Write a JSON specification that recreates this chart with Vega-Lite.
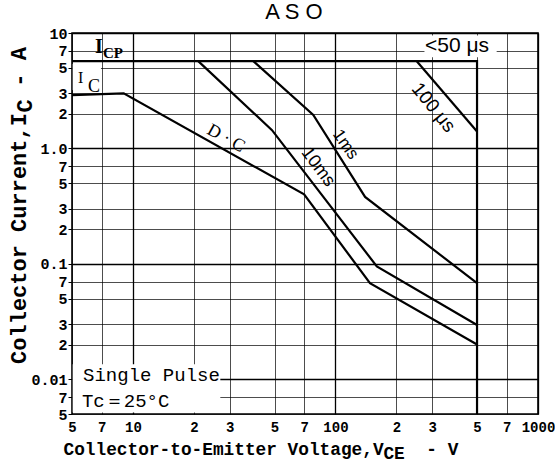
{
  "$schema": "https://vega.github.io/schema/vega-lite/v6.json",
  "width": 466,
  "height": 381,
  "autosize": {"type": "none"},
  "padding": {"left": 72, "top": 33, "right": 17, "bottom": 61},
  "background": "white",
  "title": {"text": "A S O", "font": "Liberation Sans", "fontSize": 22, "fontWeight": "normal", "color": "black", "dx": -11, "dy": 18, "offset": 3, "baseline": "alphabetic"},
  "config": {
    "view": {"stroke": "black", "strokeWidth": 1.6},
    "axis": {"gridColor": "black", "labelColor": "black", "titleColor": "black", "domain": false}
  },
  "layer": [
    {
      "data": {"values": [
        {"v": 5.04, "v2": 27, "i": 0.00515, "i2": 0.0135},
        {"v": 275, "v2": 625, "i": 6.15, "i2": 9.5},
        {"v": 5.04, "v2": 6.95, "i": 3.2, "i2": 5.4}
      ]},
      "mark": {"type": "rect", "fill": "white", "stroke": null},
      "encoding": {
        "x": {"field": "v", "type": "quantitative", "scale": {"type": "log", "domain": [5, 1000], "nice": false},
          "axis": {
            "values": [5, 7, 10, 20, 30, 50, 70, 100, 200, 300, 500, 700, 1000],
            "labelExpr": "abs(log(datum.value)/LN10 - round(log(datum.value)/LN10)) < 0.01 ? format(datum.value, 'd') : '' + round(datum.value / pow(10, floor(log(datum.value)/LN10 + 1e-6)))",
            "grid": true,
            "gridWidth": {"condition": {"test": "abs(log(datum.value)/LN10 - round(log(datum.value)/LN10)) < 0.01", "value": 1.3}, "value": 0.7},
            "ticks": false,
            "labelPadding": 6,
            "labelFont": "Liberation Mono", "labelFontWeight": "bold", "labelFontSize": 14,
            "labelFlush": false, "labelOverlap": false,
            "title": "Collector-to-Emitter Voltage,V\u00a0\u00a0\u00a0\u00a0-\u00a0V",
            "titleFont": "Liberation Mono", "titleFontSize": 17.8, "titleFontWeight": "bold",
            "titleAnchor": "start", "titleAlign": "left", "titleX": -9, "titleY": 40, "titleBaseline": "alphabetic"
          }},
        "x2": {"field": "v2"},
        "y": {"field": "i", "type": "quantitative", "scale": {"type": "log", "domain": [0.005, 10], "nice": false},
          "axis": {
            "values": [0.005, 0.007, 0.01, 0.02, 0.03, 0.05, 0.07, 0.1, 0.2, 0.3, 0.5, 0.7, 1, 2, 3, 5, 7, 10],
            "labelExpr": "abs(log(datum.value)/LN10 - round(log(datum.value)/LN10)) < 0.01 ? (datum.value > 5 ? '10' : datum.value > 0.5 ? '1.0' : datum.value > 0.05 ? '0.1' : '0.01') : '' + round(datum.value / pow(10, floor(log(datum.value)/LN10 + 1e-6)))",
            "grid": true,
            "gridWidth": {"condition": {"test": "abs(log(datum.value)/LN10 - round(log(datum.value)/LN10)) < 0.01", "value": 1.3}, "value": 0.7},
            "ticks": true, "tickSize": 4, "tickColor": "black", "tickWidth": 1,
            "labelPadding": 1,
            "labelFont": "Liberation Mono", "labelFontWeight": "bold", "labelFontSize": 15,
            "labelBaseline": "middle", "labelOverlap": false, "labelFlush": false,
            "title": "Collector Current,I\u00a0\u00a0-\u00a0A",
            "titleFont": "Liberation Mono", "titleFontSize": 22, "titleFontWeight": "bold",
            "titleAngle": 270, "titleAlign": "center", "titleX": -47, "titleY": 172, "titleBaseline": "alphabetic"
          }},
        "y2": {"field": "i2"}
      }
    },
    {
      "data": {"values": [
        {"s": "limit", "k": 0, "v": 5, "i": 5.7},
        {"s": "limit", "k": 1, "v": 500, "i": 5.7},
        {"s": "limit", "k": 2, "v": 500, "i": 0.005},
        {"s": "dc", "k": 0, "v": 5, "i": 2.9},
        {"s": "dc", "k": 1, "v": 9, "i": 3.0},
        {"s": "dc", "k": 2, "v": 70, "i": 0.4},
        {"s": "dc", "k": 3, "v": 148, "i": 0.068},
        {"s": "dc", "k": 4, "v": 500, "i": 0.02},
        {"s": "10ms", "k": 0, "v": 21, "i": 5.7},
        {"s": "10ms", "k": 1, "v": 48.6, "i": 1.44},
        {"s": "10ms", "k": 2, "v": 160, "i": 0.095},
        {"s": "10ms", "k": 3, "v": 500, "i": 0.0295},
        {"s": "1ms", "k": 0, "v": 39.3, "i": 5.7},
        {"s": "1ms", "k": 1, "v": 77.7, "i": 1.95},
        {"s": "1ms", "k": 2, "v": 140, "i": 0.38},
        {"s": "1ms", "k": 3, "v": 500, "i": 0.068},
        {"s": "100us", "k": 0, "v": 252, "i": 5.7},
        {"s": "100us", "k": 1, "v": 500, "i": 1.4}
      ]},
      "mark": {"type": "line", "stroke": "black", "strokeWidth": 2.2, "strokeJoin": "miter"},
      "encoding": {
        "x": {"field": "v", "type": "quantitative", "scale": {"type": "log", "domain": [5, 1000], "nice": false}},
        "y": {"field": "i", "type": "quantitative", "scale": {"type": "log", "domain": [0.005, 10], "nice": false}},
        "detail": {"field": "s"},
        "order": {"field": "k"}
      }
    },
    {
      "data": {"values": [{"v": 6.5, "i": 6.71, "t": "I"}]},
      "mark": {"type": "text", "font": "Liberation Serif", "fontWeight": "bold", "fontSize": 20, "align": "left", "baseline": "alphabetic", "color": "black"},
      "encoding": {"x": {"field": "v", "type": "quantitative", "scale": {"type": "log", "domain": [5, 1000], "nice": false}}, "y": {"field": "i", "type": "quantitative", "scale": {"type": "log", "domain": [0.005, 10], "nice": false}}, "text": {"field": "t"}}
    },
    {
      "data": {"values": [{"v": 7.11, "i": 6.07, "t": "CP"}]},
      "mark": {"type": "text", "font": "Liberation Serif", "fontWeight": "bold", "fontSize": 15, "align": "left", "baseline": "alphabetic", "color": "black"},
      "encoding": {"x": {"field": "v", "type": "quantitative", "scale": {"type": "log", "domain": [5, 1000], "nice": false}}, "y": {"field": "i", "type": "quantitative", "scale": {"type": "log", "domain": [0.005, 10], "nice": false}}, "text": {"field": "t"}}
    },
    {
      "data": {"values": [{"v": 5.35, "i": 3.69, "t": "I"}]},
      "mark": {"type": "text", "font": "Liberation Serif", "fontSize": 16, "align": "left", "baseline": "alphabetic", "color": "black"},
      "encoding": {"x": {"field": "v", "type": "quantitative", "scale": {"type": "log", "domain": [5, 1000], "nice": false}}, "y": {"field": "i", "type": "quantitative", "scale": {"type": "log", "domain": [0.005, 10], "nice": false}}, "text": {"field": "t"}}
    },
    {
      "data": {"values": [{"v": 6.0, "i": 3.08, "t": "C"}]},
      "mark": {"type": "text", "font": "Liberation Serif", "fontSize": 18, "align": "left", "baseline": "alphabetic", "color": "black"},
      "encoding": {"x": {"field": "v", "type": "quantitative", "scale": {"type": "log", "domain": [5, 1000], "nice": false}}, "y": {"field": "i", "type": "quantitative", "scale": {"type": "log", "domain": [0.005, 10], "nice": false}}, "text": {"field": "t"}}
    },
    {
      "data": {"values": [{"v": 28.8, "i": 1.22, "t": "D · C"}]},
      "mark": {"type": "text", "font": "Liberation Serif", "fontSize": 18, "angle": 29, "align": "center", "baseline": "middle", "color": "black"},
      "encoding": {"x": {"field": "v", "type": "quantitative", "scale": {"type": "log", "domain": [5, 1000], "nice": false}}, "y": {"field": "i", "type": "quantitative", "scale": {"type": "log", "domain": [0.005, 10], "nice": false}}, "text": {"field": "t"}}
    },
    {
      "data": {"values": [{"v": 112, "i": 1.08, "t": "1ms"}]},
      "mark": {"type": "text", "font": "Liberation Sans", "fontSize": 17, "angle": 55, "align": "center", "baseline": "middle", "color": "black"},
      "encoding": {"x": {"field": "v", "type": "quantitative", "scale": {"type": "log", "domain": [5, 1000], "nice": false}}, "y": {"field": "i", "type": "quantitative", "scale": {"type": "log", "domain": [0.005, 10], "nice": false}}, "text": {"field": "t"}}
    },
    {
      "data": {"values": [{"v": 82, "i": 0.69, "t": "10ms"}]},
      "mark": {"type": "text", "font": "Liberation Sans", "fontSize": 18, "angle": 53, "align": "center", "baseline": "middle", "color": "black"},
      "encoding": {"x": {"field": "v", "type": "quantitative", "scale": {"type": "log", "domain": [5, 1000], "nice": false}}, "y": {"field": "i", "type": "quantitative", "scale": {"type": "log", "domain": [0.005, 10], "nice": false}}, "text": {"field": "t"}}
    },
    {
      "data": {"values": [{"v": 305, "i": 2.26, "t": "100 μs"}]},
      "mark": {"type": "text", "font": "Liberation Sans", "fontSize": 19, "angle": 51, "align": "center", "baseline": "middle", "color": "black"},
      "encoding": {"x": {"field": "v", "type": "quantitative", "scale": {"type": "log", "domain": [5, 1000], "nice": false}}, "y": {"field": "i", "type": "quantitative", "scale": {"type": "log", "domain": [0.005, 10], "nice": false}}, "text": {"field": "t"}}
    },
    {
      "data": {"values": [{"v": 276.8, "i": 6.85, "t": "<50 μs"}]},
      "mark": {"type": "text", "font": "Liberation Sans", "fontSize": 21, "align": "left", "baseline": "alphabetic", "color": "black"},
      "encoding": {"x": {"field": "v", "type": "quantitative", "scale": {"type": "log", "domain": [5, 1000], "nice": false}}, "y": {"field": "i", "type": "quantitative", "scale": {"type": "log", "domain": [0.005, 10], "nice": false}}, "text": {"field": "t"}}
    },
    {
      "data": {"values": [{"v": 5.67, "i": 0.00965, "t": "Single Pulse"}, {"v": 5.6, "i": 0.00574, "t": "Tc＝25°C"}]},
      "mark": {"type": "text", "font": "Liberation Mono", "fontSize": 19, "align": "left", "baseline": "alphabetic", "color": "black"},
      "encoding": {"x": {"field": "v", "type": "quantitative", "scale": {"type": "log", "domain": [5, 1000], "nice": false}}, "y": {"field": "i", "type": "quantitative", "scale": {"type": "log", "domain": [0.005, 10], "nice": false}}, "text": {"field": "t"}}
    },
    {
      "data": {"values": [{"v": 172.5, "i": 0.002034, "t": "CE"}]},
      "mark": {"type": "text", "font": "Liberation Mono", "fontWeight": "bold", "fontSize": 17.8, "align": "left", "baseline": "alphabetic", "color": "black"},
      "encoding": {"x": {"field": "v", "type": "quantitative", "scale": {"type": "log", "domain": [5, 1000], "nice": false}}, "y": {"field": "i", "type": "quantitative", "scale": {"type": "log", "domain": [0.005, 10], "nice": false}}, "text": {"field": "t"}}
    },
    {
      "data": {"values": [{"v": 3.17, "i": 2.33, "t": "C"}]},
      "mark": {"type": "text", "font": "Liberation Mono", "fontWeight": "bold", "fontSize": 22, "angle": 270, "align": "center", "baseline": "alphabetic", "color": "black"},
      "encoding": {"x": {"field": "v", "type": "quantitative", "scale": {"type": "log", "domain": [5, 1000], "nice": false}}, "y": {"field": "i", "type": "quantitative", "scale": {"type": "log", "domain": [0.005, 10], "nice": false}}, "text": {"field": "t"}}
    }
  ]
}
